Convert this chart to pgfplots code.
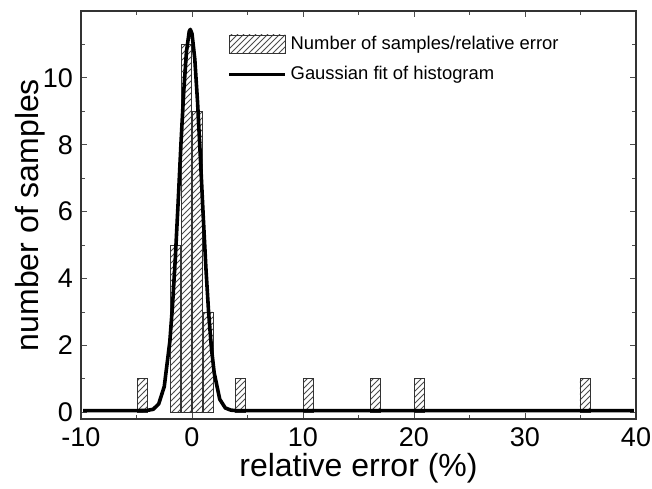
\documentclass[border=0pt]{standalone}
\usepackage{pgfplots}
\pgfplotsset{compat=1.18}
\usepackage{fontspec}
\setmainfont{Liberation Sans}
\usetikzlibrary{patterns}
\begin{document}
\begin{tikzpicture}
\path[use as bounding box] (-40.5pt,-34.5pt) rectangle (285.5pt,209.5pt);
\begin{axis}[
  at={(0,0)}, anchor=south west,
  scale only axis, width=277.5pt, height=204pt,
  xmin=-10, xmax=40, ymin=-0.2, ymax=12,
  xtick={-10,0,10,20,30,40}, minor xtick={-5,5,15,25,35},
  ytick={0,2,4,6,8,10}, minor ytick={1,3,5,7,9,11},
  tick align=inside, major tick length=3pt, minor tick length=2pt,
  tick style={black!70, line width=0.4pt},
  axis line style={black!80, line width=0.6pt},
  /pgf/number format/assume math mode=true,
  ticklabel style={font=\fontsize{13.5}{15}\selectfont},
  yticklabel style={xshift=-0.5pt},
  xticklabel style={yshift=-1pt},
  xlabel={relative error (\%)}, ylabel={number of samples},
  label style={font=\fontsize{16}{18}\selectfont},
  xlabel style={yshift=4pt},
  ylabel style={yshift=-8pt},
  legend style={at={(0.26,0.955)}, anchor=north west, draw=none, fill=none,
    font=\fontsize{9.2}{11}\selectfont, row sep=3pt, inner sep=1pt,
    cells={anchor=west}},
  legend cell align=left,
]
\addplot[ybar, bar width=0.9, draw=black!80, line width=0.4pt,
  pattern=north east lines, pattern color=black!70,
  legend image code/.code={\draw[pattern=north east lines, pattern color=black!70, draw=black!80, line width=0.4pt] (0pt,-4.5pt) rectangle (28pt,4.5pt);}]
coordinates {
(-4.5,1) (-1.5,5) (-0.5,11) (0.5,9) (1.5,3) (4.4,1) (10.45,1) (16.5,1) (20.5,1) (35.4,1)
};
\addlegendentry{Number of samples/relative error}
\addplot[black, line width=1.8pt, line join=round,
  legend image code/.code={\draw[black, line width=1.5pt] (0pt,0pt) -- (28pt,0pt);}]
coordinates {
(-9.8,0.05) (-5,0.05) (-4,0.06) (-3.5,0.09) (-3,0.25) (-2.5,0.77) (-2,2.11)
(-1.75,3.22) (-1.5,4.63) (-1.25,6.27) (-1,8.0) (-0.75,9.57) (-0.5,10.78)
(-0.25,11.39) (-0.15,11.45) (0,11.32) (0.25,10.57) (0.5,9.28) (0.75,7.65)
(1,5.94) (1.25,4.33) (1.5,2.97) (1.75,1.92) (2,1.18) (2.5,0.39) (3,0.13)
(3.5,0.065) (4,0.05) (5,0.05) (39.8,0.05)
};
\addlegendentry{Gaussian fit of histogram}
\end{axis}
\end{tikzpicture}
\end{document}
